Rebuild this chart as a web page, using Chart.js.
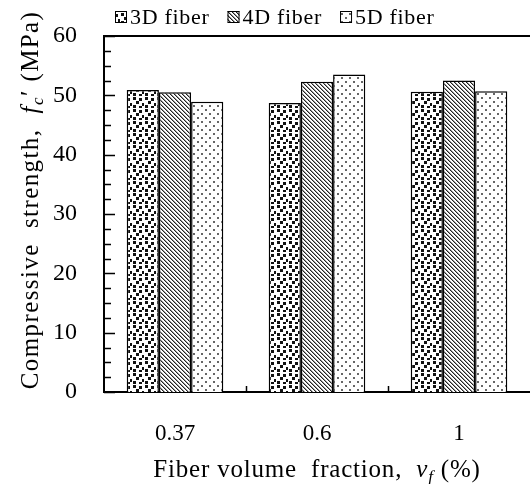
<!DOCTYPE html>
<html>
<head>
<meta charset="utf-8">
<script src="https://cdn.jsdelivr.net/npm/chart.js@4.4.0/dist/chart.umd.min.js"></script>
<style>
  html, body { margin: 0; padding: 0; background: #fff; }
  #wrap { width: 530px; height: 484px; position: relative; }
</style>
</head>
<body>
<div id="wrap"><canvas id="chart"></canvas></div>
<script>
// data
const categories = ['0.37', '0.6', '1'];
const seriesNames = ['3D fiber', '4D fiber', '5D fiber'];
const fiber3D = [50.9, 48.7, 50.6];
const fiber4D = [50.5, 52.3, 52.5];
const fiber5D = [48.9, 53.5, 50.7];
const yMin = 0, yMax = 60, yStep = 10;

const FONT = '"Liberation Serif", "DejaVu Serif", serif';

function makeTile(size, draw) {
  const c = document.createElement('canvas');
  c.width = size; c.height = size;
  const g = c.getContext('2d');
  g.fillStyle = '#fff';
  g.fillRect(0, 0, size, size);
  draw(g);
  return c.getContext('2d').createPattern(c, 'repeat');
}

// dense black squares
const pat3D = makeTile(12, g => {
  g.fillStyle = '#111';
  [[1, 1], [7, 2], [4, 5], [10, 7], [1, 9], [7, 10]].forEach(p => g.fillRect(p[0], p[1], 3, 3));
});
// diagonal hatch "\"
const pat4D = makeTile(4, g => {
  for (let i = 0; i < 4; i++) {
    g.fillStyle = '#222';
    g.fillRect(i, i, 1, 1);
    g.fillStyle = '#999';
    g.fillRect((i + 1) % 4, i, 1, 1);
  }
});
// sparse grey dots
const pat5D = makeTile(8, g => {
  g.fillStyle = '#666';
  g.fillRect(1, 1, 2, 2);
  g.fillRect(5, 5, 2, 2);
});
const patterns = [pat3D, pat4D, pat5D];

// inside tick marks, top frame line, legend and rich axis titles
const decorations = {
  id: 'decorations',
  afterDraw(chart) {
    const ctx = chart.ctx;
    const area = chart.chartArea;
    const y = chart.scales.y, x = chart.scales.x;
    ctx.save();
    ctx.strokeStyle = '#000';
    ctx.lineWidth = 2;
    ctx.beginPath();
    ctx.moveTo(area.left - 1, area.top);
    ctx.lineTo(area.right, area.top);
    ctx.stroke();

    ctx.lineWidth = 1.5;
    ctx.beginPath();
    for (let v = yMin; v <= yMax; v += yStep / 4) {
      const py = Math.round(y.getPixelForValue(v)) + 0.5;
      const len = (v % yStep === 0) ? 11 : 7;
      ctx.moveTo(area.left, py);
      ctx.lineTo(area.left + len, py);
    }
    for (let i = 1; i < categories.length; i++) {
      const px = Math.round((x.getPixelForValue(i - 1) + x.getPixelForValue(i)) / 2) + 0.5;
      ctx.moveTo(px, area.bottom);
      ctx.lineTo(px, area.bottom - 6);
    }
    ctx.stroke();

    // legend
    ctx.font = '22px ' + FONT;
    ctx.letterSpacing = '0.7px';
    ctx.textBaseline = 'alphabetic';
    let lx = 115;
    seriesNames.forEach((name, i) => {
      ctx.fillStyle = patterns[i];
      ctx.fillRect(lx, 11, 12, 12);
      ctx.lineWidth = 1;
      ctx.strokeStyle = '#000';
      ctx.strokeRect(lx + 0.5, 11.5, 11, 11);
      ctx.fillStyle = '#000';
      ctx.textAlign = 'left';
      ctx.fillText(name, lx + 15, 24);
      lx += 15 + ctx.measureText(name).width + 18;
    });

    // axis titles with italic symbols and subscripts
    function rich(parts, cx, cy) {
      let total = 0;
      parts.forEach(p => {
        ctx.font = p.f;
        p.w = ctx.measureText(p.t).width;
        total += p.w;
      });
      let px = cx - total / 2;
      ctx.textAlign = 'left';
      ctx.textBaseline = 'alphabetic';
      parts.forEach(p => {
        ctx.font = p.f;
        ctx.fillText(p.t, px, cy + (p.dy || 0));
        px += p.w;
      });
    }
    ctx.fillStyle = '#000';
    ctx.letterSpacing = '0.8px';
    rich([
      { t: 'Fiber volume  fraction,  ', f: '25px ' + FONT },
      { t: 'v', f: 'italic 25px ' + FONT },
      { t: 'f', f: 'italic 17px ' + FONT, dy: 5 },
      { t: ' (%)', f: '25px ' + FONT }
    ], (area.left + area.right) / 2, 477);

    ctx.save();
    ctx.letterSpacing = '1.4px';
    ctx.translate(38, 200);
    ctx.rotate(-Math.PI / 2);
    rich([
      { t: 'Compressive  strength,  ', f: '25px ' + FONT },
      { t: 'f', f: 'italic 25px ' + FONT },
      { t: 'c', f: 'italic 17px ' + FONT, dy: 5 },
      { t: '\u2032 (MPa)', f: '25px ' + FONT }
    ], 0, 0);
    ctx.restore();
    ctx.restore();
  }
};

new Chart(document.getElementById('chart'), {
  type: 'bar',
  data: {
    labels: categories,
    datasets: [fiber3D, fiber4D, fiber5D].map((vals, i) => ({
      label: seriesNames[i],
      data: vals,
      backgroundColor: patterns[i],
      borderColor: '#000',
      borderWidth: 1.5,
      barPercentage: 1,
      categoryPercentage: 0.68
    }))
  },
  options: {
    responsive: true,
    maintainAspectRatio: false,
    animation: false,
    layout: { padding: { top: 36, right: 0, left: 0, bottom: 0 } },
    plugins: {
      legend: { display: false },
      tooltip: { enabled: false }
    },
    scales: {
      x: {
        grid: { display: false },
        border: { color: '#000', width: 2 },
        ticks: { color: '#000', padding: 20, font: { family: FONT, size: 23 } },
        afterFit: s => { s.height = 92; s.paddingLeft = 0; s.paddingRight = 0; }
      },
      y: {
        min: yMin,
        max: yMax,
        grid: { display: false },
        border: { color: '#000', width: 2 },
        ticks: { stepSize: yStep, color: '#000', padding: 19, font: { family: FONT, size: 24 } },
        afterFit: s => { s.width = 104; s.paddingTop = 0; s.paddingBottom = 0; }
      }
    }
  },
  plugins: [decorations]
});
</script>
</body>
</html>
